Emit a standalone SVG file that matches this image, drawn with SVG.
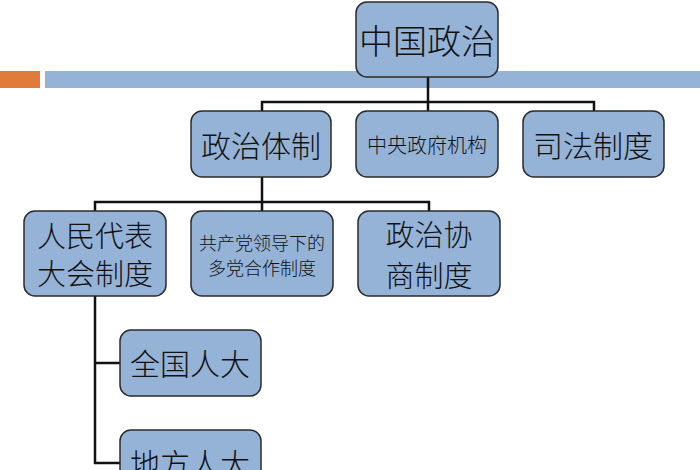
<svg xmlns="http://www.w3.org/2000/svg" width="700" height="470" viewBox="0 0 700 470">
<style>
.n{fill:#95b3d7;stroke:#2b2b2b;stroke-width:1.5}
.t{font-family:"Noto Sans CJK SC",sans-serif;fill:#111;text-anchor:middle;font-weight:300}
.c{stroke:#111;stroke-width:2.5;fill:none}
</style>
<rect width="700" height="470" fill="#fff"/>
<rect x="0" y="71" width="40" height="17" fill="#e07b3c"/>
<rect x="45" y="71" width="655" height="17" fill="#95b3d7"/>
<g id="connectors">
<path class="c" d="M428 77V102M262 111V102H594V111M428 102V111"/>
<path class="c" d="M262 177V202M95 211V202H429V211M262 202V211"/>
<path class="c" d="M95 296V463H120M95 363H120"/>
</g>
<g id="n1"><rect class="n" x="356" y="2" width="142" height="75" rx="11"/><text class="t" x="427" y="54" font-size="34">中国政治</text></g>
<g id="n2"><rect class="n" x="191" y="111" width="140" height="66" rx="11"/><text class="t" x="261" y="157" font-size="30">政治体制</text></g>
<g id="n3"><rect class="n" x="356" y="111" width="142" height="66" rx="11"/><text class="t" x="427" y="153" font-size="20">中央政府机构</text></g>
<g id="n4"><rect class="n" x="523" y="111" width="141" height="66" rx="11"/><text class="t" x="593" y="157" font-size="30">司法制度</text></g>
<g id="n5"><rect class="n" x="24" y="211" width="142" height="85" rx="11"/><text class="t" x="95" y="247" font-size="29">人民代表</text><text class="t" x="95" y="285" font-size="29">大会制度</text></g>
<g id="n6"><rect class="n" x="191" y="211" width="142" height="85" rx="11"/><text class="t" x="262" y="250" font-size="18">共产党领导下的</text><text class="t" x="262" y="275" font-size="18">多党合作制度</text></g>
<g id="n7"><rect class="n" x="358" y="211" width="142" height="85" rx="11"/><text class="t" x="429" y="246" font-size="29">政治协</text><text class="t" x="429" y="287" font-size="29">商制度</text></g>
<g id="n8"><rect class="n" x="120" y="330" width="141" height="66" rx="11"/><text class="t" x="190" y="375" font-size="30">全国人大</text></g>
<g id="n9"><rect class="n" x="120" y="430" width="141" height="66" rx="11"/><text class="t" x="190" y="475" font-size="30">地方人大</text></g>
</svg>
